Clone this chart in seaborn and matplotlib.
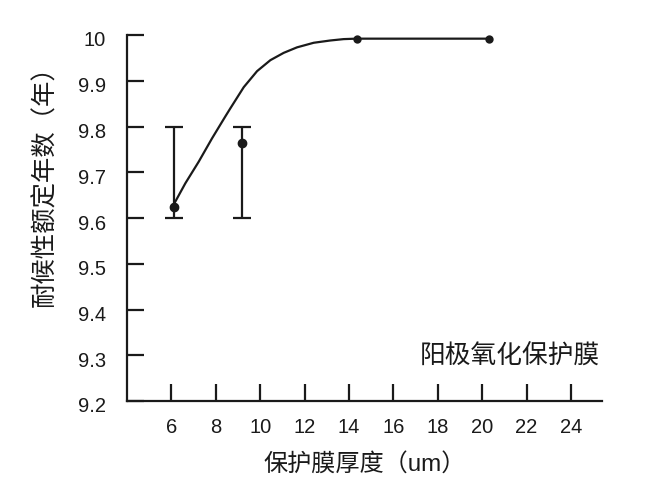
import matplotlib
matplotlib.use('Agg')
import matplotlib.pyplot as plt
import matplotlib.transforms as mtransforms
import seaborn as sns

# Curve (thickness um -> rated years)
curve_x = [6.10, 6.63, 7.23, 7.83, 8.43, 8.66, 9.26, 9.86, 10.46, 11.06,
           11.66, 12.41, 13.16, 13.76, 14.33, 20.29]
curve_y = [9.629, 9.676, 9.723, 9.774, 9.822, 9.840, 9.886, 9.921, 9.945, 9.961,
           9.973, 9.983, 9.988, 9.991, 9.992, 9.992]

# Dots on the curve
dot_x = [6.10, 14.35, 20.29]
dot_y = [9.625, 9.992, 9.992]

# Measured points with ranges
err_x = [6.10, 9.18]
err_y = [9.625, 9.764]
err_low = [9.6, 9.6]
err_high = [9.8, 9.8]

x_ticks = [6, 8, 10, 12, 14, 16, 18, 20, 22, 24]
y_ticks = [9.2, 9.3, 9.4, 9.5, 9.6, 9.7, 9.8, 9.9, 10]
y_tick_labels = ['9.2', '9.3', '9.4', '9.5', '9.6', '9.7', '9.8', '9.9', '10']

sns.set_style('ticks')
plt.rcParams['font.family'] = ['Liberation Sans', 'Noto Sans CJK SC', 'DejaVu Sans']

ink = '#1a1a1a'
fig = plt.figure(figsize=(6.5, 5.04), dpi=100)
ax = fig.add_axes([127/650, 1 - 401/504, 475/650, 366/504])

# Smooth curve and its dots
sns.lineplot(x=curve_x, y=curve_y, color=ink, linewidth=1.6, ax=ax, clip_on=False)
sns.scatterplot(x=dot_x, y=dot_y, color=ink, s=36, edgecolor=ink, linewidth=0, ax=ax,
                clip_on=False, zorder=5)

# Error bars (asymmetric, lower/upper bounds)
lower = [y - lo for y, lo in zip(err_y, err_low)]
upper = [hi - y for y, hi in zip(err_y, err_high)]
ax.errorbar(err_x, err_y, yerr=[lower, upper], fmt='o', color=ink, markersize=6,
            capsize=6.4, elinewidth=1.6, capthick=1.6, zorder=4)

ax.set_xlim(4, 25.4)
ax.set_ylim(9.2, 10)
ax.set_xticks(x_ticks)
ax.set_yticks(y_ticks)
ax.set_yticklabels(y_tick_labels)

sns.despine(ax=ax)
for side in ['left', 'bottom']:
    ax.spines[side].set_linewidth(1.6)
    ax.spines[side].set_color(ink)
ax.tick_params(axis='both', direction='in', length=12.5, width=1.6, color=ink,
               labelsize=14.5, labelcolor=ink)
ax.tick_params(axis='y', pad=15)
ax.tick_params(axis='x', pad=12)

# y tick labels sit a little below their ticks in the original
shift = mtransforms.ScaledTranslation(0, -4/100, fig.dpi_scale_trans)
for lab in ax.get_yticklabels():
    lab.set_transform(lab.get_transform() + shift)

ax.set_xlabel('保护膜厚度（um）', fontsize=17.4, color=ink)
ax.set_ylabel('耐候性额定年数（年）', fontsize=18.3, color=ink)
ax.xaxis.set_label_coords(0.5, -0.142)
ax.yaxis.set_label_coords(-0.147, 0.603)

ax.text(17.2, 9.297, '阳极氧化保护膜', fontsize=18.5, color=ink, ha='left', va='center')

fig.savefig('out.png', dpi=100)
